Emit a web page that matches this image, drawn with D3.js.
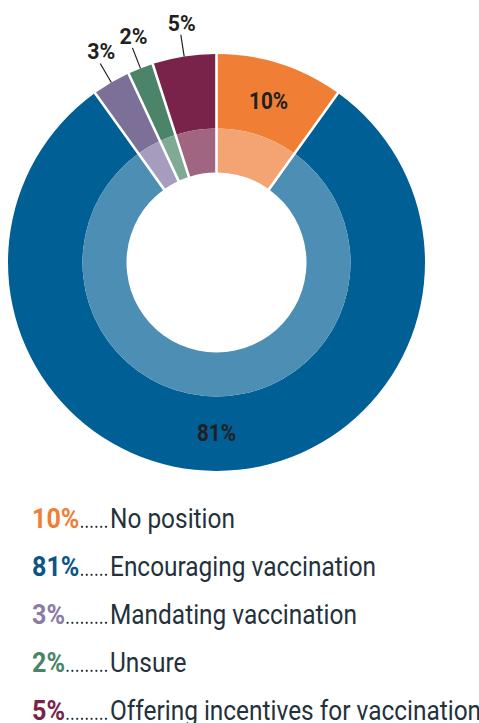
<!DOCTYPE html>
<html>
<head>
<meta charset="utf-8">
<script src="https://cdn.jsdelivr.net/npm/d3@7"></script>
<style>
  body { margin: 0; background: #fff; }
  text { font-family: Roboto, "Liberation Sans", sans-serif; }
</style>
</head>
<body>
<div id="chart"></div>
<script>
// vaccination position donut

var labels = ["No position", "Encouraging vaccination", "Mandating vaccination", "Unsure", "Offering incentives for vaccination"];
var values = [10, 81, 3, 2, 5];
var darkColors = ["#f07f35", "#005f95", "#7d7098", "#4b8468", "#79234a"];
var lightColors = ["#f3a472", "#4d8eb4", "#a69dbe", "#7fab95", "#a06580"];
var legendColors = ["#f07f35", "#0a5586", "#8a7ca5", "#4b8468", "#79234a"];

var width = 479;
var height = 723;

var cx = 216.5, cy = 262.5;
var rOuter = 208.5, rMid = 134, rHole = 90;

// the original type is a condensed grotesque, so squeeze Roboto sideways
var squeezeBold = 0.93;
var squeezeReg = 0.905;

var svg = d3.select("#chart")
    .append("svg")
    .attr("width", width)
    .attr("height", height);

var pie = d3.pie()
    .sort(null)
    .value(function (d) { return d; });

var slices = pie(values);

// same padRadius for both rings so the white gaps line up
var outerArc = d3.arc().innerRadius(rMid).outerRadius(rOuter).padRadius(100).padAngle(0.026);
var innerArc = d3.arc().innerRadius(rHole).outerRadius(rMid).padRadius(100).padAngle(0.026);

var g = svg.append("g")
    .attr("transform", "translate(" + cx + "," + cy + ")");

g.selectAll(".outer")
    .data(slices)
    .enter()
    .append("path")
    .attr("class", "outer")
    .attr("d", outerArc)
    .attr("fill", function (d, i) { return darkColors[i]; });

g.selectAll(".inner")
    .data(slices)
    .enter()
    .append("path")
    .attr("class", "inner")
    .attr("d", innerArc)
    .attr("fill", function (d, i) { return lightColors[i]; });

function mid(d) { return (d.startAngle + d.endAngle) / 2; }
function polar(a, r) { return [Math.sin(a) * r, -Math.cos(a) * r]; }
function place(x, y, s) { return "translate(" + x + "," + y + ") scale(" + s + ",1)"; }

// big slices get the label inside the ring, small ones outside with a leader
slices.forEach(function (d, i) {
    var a = mid(d);
    if (d.value >= 10) {
        var p = polar(a, 170);
        g.append("text")
            .attr("transform", place(p[0], p[1], 0.9))
            .attr("dy", "0.36em")
            .attr("text-anchor", "middle")
            .style("font-size", "23px")
            .style("font-weight", "bold")
            .style("fill", "#231f20")
            .text(d.value + "%");
    } else {
        var p0 = polar(a, rOuter);
        var p1 = polar(a, rOuter + 22);
        g.append("line")
            .attr("x1", p0[0]).attr("y1", p0[1])
            .attr("x2", p1[0]).attr("y2", p1[1])
            .attr("stroke", "#231f20")
            .attr("stroke-width", 1.2);
        g.append("text")
            .attr("transform", place(p1[0] + 1, p1[1] - 4, 0.97))
            .attr("text-anchor", "middle")
            .style("font-size", "22px")
            .style("font-weight", "bold")
            .style("fill", "#231f20")
            .text(d.value + "%");
    }
});

// legend
var legendX = 32;
var legendTop = 528;
var rowGap = 48;
var dotsEnd = 106;
var dotStep = 4.8;
var labelX = 110;

var rows = svg.selectAll(".legend")
    .data(values)
    .enter()
    .append("g")
    .attr("class", "legend")
    .attr("transform", function (d, i) { return "translate(0," + (legendTop + i * rowGap) + ")"; });

rows.append("text")
    .attr("class", "pct")
    .attr("transform", place(legendX, 0, squeezeBold))
    .style("font-size", "27px")
    .style("font-weight", "bold")
    .style("fill", function (d, i) { return legendColors[i]; })
    .text(function (d) { return d + "%"; });

rows.append("text")
    .attr("transform", place(labelX, 0, squeezeReg))
    .style("font-size", "27px")
    .style("fill", "#24313b")
    .text(function (d, i) { return labels[i]; });

// dot leaders fill the space between percent and label
rows.each(function () {
    var row = d3.select(this);
    var w = row.select(".pct").node().getComputedTextLength() * squeezeBold;
    var start = legendX + w + 2;
    var n = Math.floor((dotsEnd - start) / dotStep) + 1;
    for (var k = 0; k < n; k++) {
        row.append("circle")
            .attr("cx", dotsEnd - k * dotStep)
            .attr("cy", -1.2)
            .attr("r", 1.15)
            .attr("fill", "#24313b");
    }
});
</script>
</body>
</html>
